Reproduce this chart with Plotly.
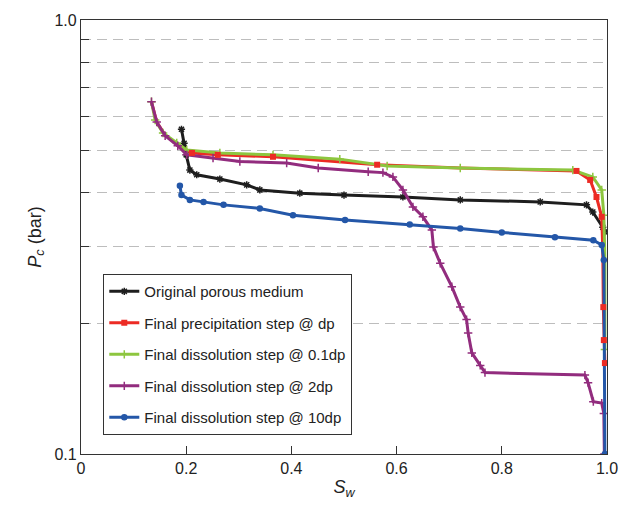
import plotly.graph_objects as go

# ---- data ----
orig_x = [0.191, 0.196, 0.200, 0.207, 0.220, 0.264, 0.315, 0.340, 0.416, 0.500, 0.612, 0.721, 0.873, 0.961, 0.973, 0.992, 0.996]
orig_y = [0.560, 0.520, 0.489, 0.451, 0.440, 0.430, 0.417, 0.406, 0.399, 0.395, 0.391, 0.385, 0.381, 0.375, 0.361, 0.333, 0.325]

prec_x = [0.134, 0.144, 0.160, 0.184, 0.211, 0.260, 0.365, 0.492, 0.563, 0.721, 0.942, 0.968, 0.980, 0.990, 0.992, 0.993, 0.994, 0.996]
prec_y = [0.648, 0.582, 0.543, 0.515, 0.494, 0.489, 0.484, 0.471, 0.464, 0.456, 0.449, 0.428, 0.391, 0.352, 0.295, 0.218, 0.183, 0.162]
prec_marker_idx = [4, 5, 6, 8, 10, 11, 12, 13, 15, 16, 17]

dis01_x = [0.134, 0.141, 0.156, 0.182, 0.201, 0.264, 0.365, 0.492, 0.582, 0.721, 0.935, 0.973, 0.990, 0.994, 0.996, 0.996]
dis01_y = [0.648, 0.588, 0.549, 0.521, 0.502, 0.494, 0.489, 0.478, 0.461, 0.456, 0.451, 0.435, 0.406, 0.355, 0.280, 0.174]

dis2_x = [0.134, 0.144, 0.160, 0.184, 0.201, 0.251, 0.302, 0.391, 0.451, 0.546, 0.574, 0.593, 0.612, 0.631, 0.650, 0.667, 0.670, 0.683, 0.705, 0.721, 0.733, 0.736, 0.743, 0.759, 0.768, 0.958, 0.964, 0.974, 0.990, 0.994, 0.995]
dis2_y = [0.648, 0.582, 0.541, 0.513, 0.489, 0.481, 0.472, 0.468, 0.456, 0.447, 0.445, 0.435, 0.406, 0.371, 0.352, 0.328, 0.300, 0.275, 0.243, 0.218, 0.204, 0.190, 0.171, 0.160, 0.154, 0.152, 0.146, 0.132, 0.131, 0.124, 0.100]

dis10_x = [0.188, 0.191, 0.207, 0.233, 0.271, 0.340, 0.403, 0.502, 0.625, 0.721, 0.800, 0.901, 0.974, 0.990, 0.994, 0.996]
dis10_y = [0.415, 0.395, 0.385, 0.381, 0.375, 0.368, 0.355, 0.346, 0.338, 0.331, 0.324, 0.316, 0.311, 0.303, 0.280, 0.100]

y_tickvals = [0.1, 0.2, 0.3, 0.4, 0.5, 0.6, 0.7, 0.8, 0.9, 1.0]
y_ticktext = ["0.1", "", "", "", "", "", "", "", "", "1.0"]
x_tickvals = [0, 0.2, 0.4, 0.6, 0.8, 1.0]
x_ticktext = ["0", "0.2", "0.4", "0.6", "0.8", "1.0"]

names = [
    "Original porous medium",
    "Final precipitation step @ dp",
    "Final dissolution step @ 0.1dp",
    "Final dissolution step @ 2dp",
    "Final dissolution step @ 10dp",
]

colors = ["#1e1e1e", "#ec2b24", "#8dc63f", "#922c7e", "#2457a8"]
symbols = ["asterisk-open", "square", "cross-thin-open", "cross-thin-open", "circle"]
msizes = [6, 6, 6, 6, 5]
data = [(orig_x, orig_y), (prec_x, prec_y), (dis01_x, dis01_y), (dis2_x, dis2_y), (dis10_x, dis10_y)]

fig = go.Figure()
for i in range(5):
    xs, ys = data[i]
    col = colors[i]
    if i == 1:
        # red line drawn beneath the green one; its markers go on top later
        fig.add_trace(go.Scatter(
            x=xs, y=ys, mode="lines", line=dict(color=col, width=3),
            showlegend=False, legendgroup=f"g{i}", hoverinfo="skip",
        ))
        fig.add_trace(go.Scatter(
            x=[None], y=[None], name=names[i], mode="lines+markers",
            line=dict(color=col, width=3),
            marker=dict(color=col, size=6, symbol="square"),
            legendgroup=f"g{i}", legendrank=i + 1,
        ))
    else:
        fig.add_trace(go.Scatter(
            x=xs, y=ys, name=names[i], mode="lines+markers",
            line=dict(color=col, width=3),
            marker=dict(color=col, size=msizes[i], symbol=symbols[i],
                        line=dict(color=col, width=1.5)),
            legendgroup=f"g{i}", legendrank=i + 1,
        ))

# red markers sit on top of the green line
fig.add_trace(go.Scatter(
    x=[prec_x[k] for k in prec_marker_idx], y=[prec_y[k] for k in prec_marker_idx],
    mode="markers", marker=dict(color=colors[1], size=6, symbol="square"),
    showlegend=False, hoverinfo="skip",
))

fig.update_layout(
    width=620, height=507,
    margin=dict(l=81, r=13, t=20, b=53),
    paper_bgcolor="white", plot_bgcolor="white",
    font=dict(family="Liberation Sans, Arial, sans-serif", size=16, color="#222"),
    showlegend=True,
    legend=dict(
        x=0.042, y=0.415, xanchor="left", yanchor="top",
        bgcolor="white", bordercolor="#333", borderwidth=1.2,
        font=dict(size=15, color="#222"),
        tracegroupgap=9, itemwidth=30,
    ),
)
fig.update_xaxes(
    range=[0, 1.0], tickvals=x_tickvals, ticktext=x_ticktext,
    showgrid=False, zeroline=False, automargin=False,
    showline=True, linecolor="#333", linewidth=1.2, mirror=True,
    ticks="inside", ticklen=8, tickcolor="#333",
    title=dict(text="<i>S<sub>w</sub></i>", font=dict(size=18), standoff=4),
)
fig.update_yaxes(
    type="log", range=[-1, 0], tickvals=y_tickvals, ticktext=y_ticktext,
    showgrid=True, gridcolor="#bdbdbd", griddash="10px,6px", gridwidth=1,
    showline=True, linecolor="#333", linewidth=1.2, mirror=True, automargin=False,
    ticks="inside", ticklen=8, tickcolor="#333",
    title=dict(text="<i>P<sub>c</sub></i> (bar)", font=dict(size=18), standoff=8),
)

# remove the default 8px page margin so the figure fills the window exactly
fig.write_html("out.html",
               config={"displayModeBar": False},
               post_script="document.body.style.margin='0';document.body.style.overflow='hidden';")
